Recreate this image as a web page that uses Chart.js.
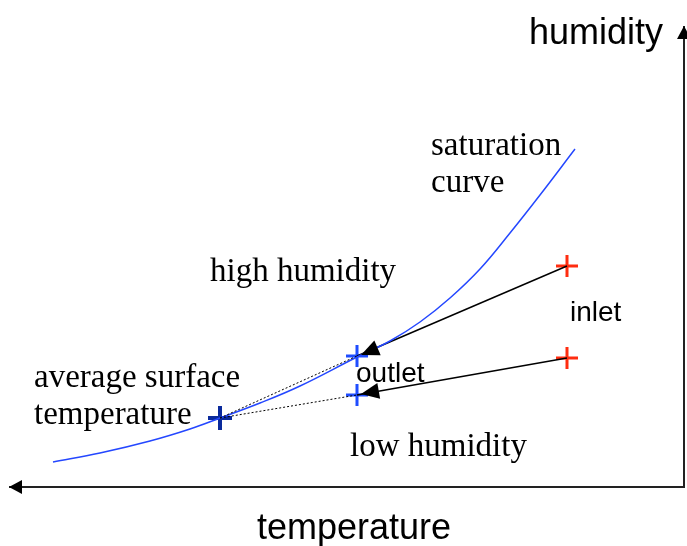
<!DOCTYPE html>
<html>
<head>
<meta charset="utf-8">
<script src="https://cdn.jsdelivr.net/npm/chart.js@4"></script>
<style>
  html, body { margin: 0; padding: 0; background: #fff; }
  #wrap { width: 687px; height: 546px; }
</style>
</head>
<body>
<div id="wrap"><canvas id="chart" width="687" height="546"></canvas></div>
<script>
// saturation curve (temperature, humidity) in diagram units
const curveT = [53, 100, 150, 190, 220, 260, 300, 357, 390, 420, 450, 480, 510, 540, 575];
const curveH = [84, 93, 105, 117, 128, 143, 160, 189, 205, 224, 248, 277, 313, 351, 397];

// states
const surfacePt = { x: 220, y: 128 };
const outletHigh = { x: 357, y: 190 };
const outletLow = { x: 357, y: 151 };
const inletHigh = { x: 567, y: 280 };
const inletLow = { x: 567, y: 188 };

// axes (origin at bottom right, arrows pointing left and up)
const axisOrigin = { x: 684, y: 59 };
const axisTempEnd = { x: 9, y: 59 };
const axisHumEnd = { x: 684, y: 520 };

// text labels: [text, x, y, kind]
const labels = [
    ["humidity", 529, 502, "sans-big"],
    ["temperature", 257, 7, "sans-big"],
    ["saturation", 431, 391, "serif"],
    ["curve", 431, 354, "serif"],
    ["high humidity", 210, 265, "serif"],
    ["average surface", 34, 159, "serif"],
    ["temperature", 34, 122, "serif"],
    ["low humidity", 350, 90, "serif"],
    ["inlet", 570, 225, "sans"],
    ["outlet", 356, 164, "sans"]
];

const fonts = {
    "sans-big": "36px 'Liberation Sans', Arial, sans-serif",
    "sans": "28px 'Liberation Sans', Arial, sans-serif",
    "serif": "33px 'Liberation Serif', 'Times New Roman', serif"
};

function arrowHead(ctx, fx, fy, tx, ty, len, half) {
    const a = Math.atan2(ty - fy, tx - fx);
    ctx.beginPath();
    ctx.moveTo(tx, ty);
    ctx.lineTo(tx - len * Math.cos(a) + half * Math.sin(a), ty - len * Math.sin(a) - half * Math.cos(a));
    ctx.lineTo(tx - len * Math.cos(a) - half * Math.sin(a), ty - len * Math.sin(a) + half * Math.cos(a));
    ctx.closePath();
    ctx.fill();
}

const decorPlugin = {
    id: "decor",
    afterDatasetsDraw(chart) {
        const ctx = chart.ctx;
        const sx = chart.scales.x, sy = chart.scales.y;
        const px = p => [sx.getPixelForValue(p.x), sy.getPixelForValue(p.y)];
        ctx.save();
        ctx.fillStyle = "#000";

        // axis arrow heads
        let [ox, oy] = px(axisOrigin);
        let [ex, ey] = px(axisTempEnd);
        arrowHead(ctx, ox, oy, ex, ey, 13, 7);
        [ex, ey] = px(axisHumEnd);
        arrowHead(ctx, ox, oy, ex, ey, 13, 7);

        // process arrow heads
        [[inletHigh, outletHigh], [inletLow, outletLow]].forEach(([from, to]) => {
            const [fx, fy] = px(from);
            const [tx, ty] = px(to);
            arrowHead(ctx, fx, fy, tx + 4, ty - 1, 18, 8);
        });

        // labels
        ctx.textBaseline = "alphabetic";
        ctx.textAlign = "left";
        labels.forEach(([text, x, y, kind]) => {
            ctx.font = fonts[kind];
            ctx.fillText(text, sx.getPixelForValue(x), sy.getPixelForValue(y));
        });
        ctx.restore();
    }
};

const line = (pts, color, width, dash) => ({
    data: pts,
    showLine: true,
    borderColor: color,
    borderWidth: width,
    borderDash: dash || [],
    pointRadius: 0,
    fill: false
});

const cross = (pts, color, r, w) => ({
    data: pts,
    showLine: false,
    pointStyle: "cross",
    pointRadius: r,
    pointBorderColor: color,
    pointBorderWidth: w,
    borderColor: color
});

const curve = line(curveT.map((t, i) => ({ x: t, y: curveH[i] })), "#2447ff", 1.5);
curve.tension = 0.4;

new Chart(document.getElementById("chart").getContext("2d"), {
    type: "scatter",
    data: {
        datasets: [
            line([axisTempEnd, axisOrigin, axisHumEnd], "#222", 2),
            line([surfacePt, outletHigh], "#000", 1, [2, 2]),
            line([surfacePt, outletLow], "#000", 1, [2, 2]),
            curve,
            line([inletHigh, outletHigh], "#000", 1.5),
            line([inletLow, outletLow], "#000", 1.5),
            cross([surfacePt], "#0a2a9c", 12, 4),
            cross([outletHigh, outletLow], "#1f4dff", 11, 3),
            cross([inletHigh, inletLow], "#ff2d10", 11, 3)
        ]
    },
    options: {
        responsive: false,
        animation: false,
        layout: { padding: 0, autoPadding: false },
        scales: {
            x: { type: "linear", min: 0, max: 687, display: false },
            y: { type: "linear", min: 0, max: 546, display: false }
        },
        plugins: {
            legend: { display: false },
            tooltip: { enabled: false }
        }
    },
    plugins: [decorPlugin]
});
</script>
</body>
</html>
